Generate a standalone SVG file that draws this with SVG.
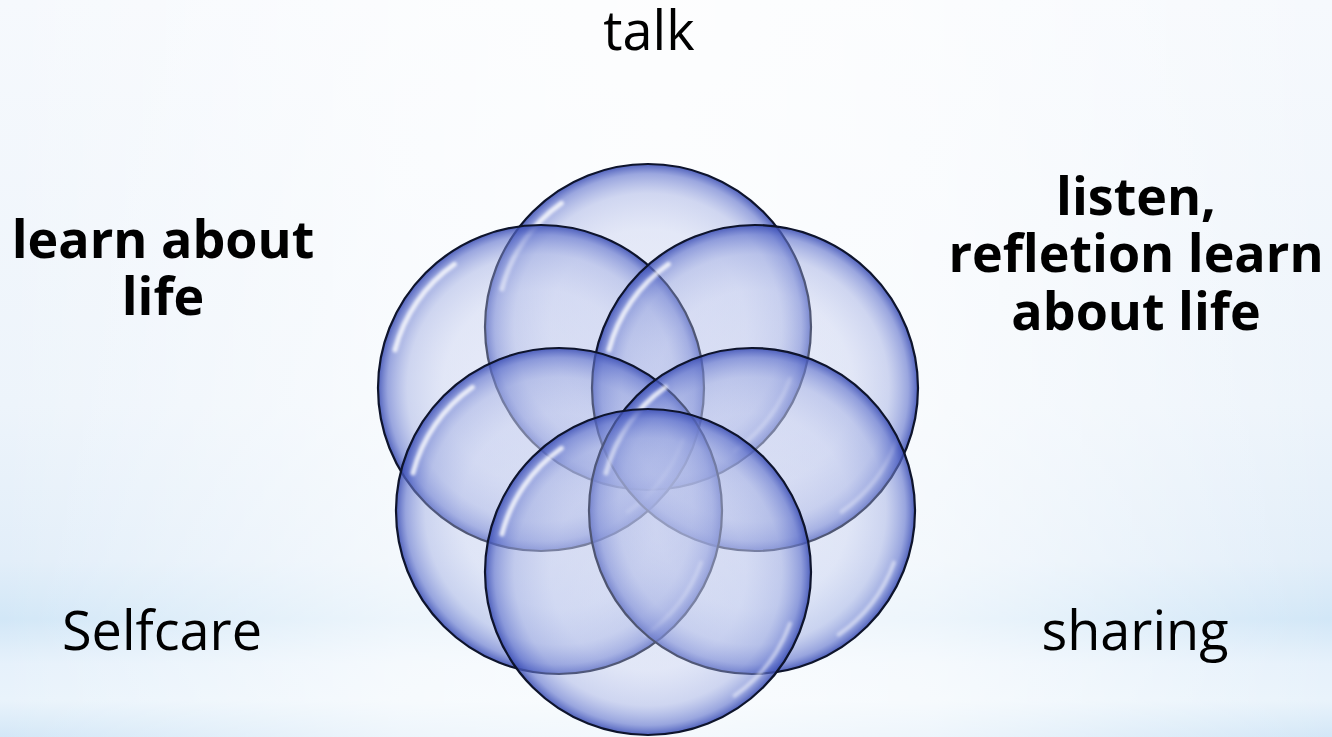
<svg xmlns="http://www.w3.org/2000/svg" xmlns:xlink="http://www.w3.org/1999/xlink" width="1332" height="737" viewBox="0 0 1332 737">
  <defs>
    <linearGradient id="bgV" x1="0" y1="0" x2="0" y2="1">
      <stop offset="0" stop-color="#f6f9fd"/>
      <stop offset="0.55" stop-color="#edf4fb"/>
      <stop offset="0.76" stop-color="#e2eef9"/>
      <stop offset="0.84" stop-color="#d2e7f7"/>
      <stop offset="0.9" stop-color="#e6f1fb"/>
      <stop offset="0.95" stop-color="#e9f3fb"/>
      <stop offset="1" stop-color="#d3e7f7"/>
    </linearGradient>
    <linearGradient id="bgH" x1="0" y1="0" x2="1" y2="0">
      <stop offset="0" stop-color="#ffffff" stop-opacity="0"/>
      <stop offset="0.3" stop-color="#ffffff" stop-opacity="0.6"/>
      <stop offset="0.5" stop-color="#ffffff" stop-opacity="0.75"/>
      <stop offset="0.7" stop-color="#ffffff" stop-opacity="0.6"/>
      <stop offset="1" stop-color="#ffffff" stop-opacity="0"/>
    </linearGradient>
    <radialGradient id="bub" cx="0.5" cy="0.5" r="0.5">
      <stop offset="0" stop-color="#c8cfee" stop-opacity="0.34"/>
      <stop offset="0.6" stop-color="#bcc5ec" stop-opacity="0.38"/>
      <stop offset="0.82" stop-color="#9aa7e0" stop-opacity="0.45"/>
      <stop offset="0.94" stop-color="#6072cc" stop-opacity="0.62"/>
      <stop offset="1" stop-color="#3a4db4" stop-opacity="0.88"/>
    </radialGradient>
    <filter id="soft" x="-20%" y="-20%" width="140%" height="140%">
      <feGaussianBlur stdDeviation="1.8"/>
    </filter>
    <g id="bubble">
      <circle cx="0" cy="0" r="163" fill="url(#bub)"/>
      <path d="M -146 -38 A 151 151 0 0 1 -86.6 -123.7" fill="none" stroke="#ffffff" stroke-width="5" stroke-linecap="round" stroke-opacity="0.8" filter="url(#soft)"/>
      <path d="M 141.9 51.6 A 151 151 0 0 1 86.6 123.7" fill="none" stroke="#ffffff" stroke-width="4" stroke-linecap="round" stroke-opacity="0.5" filter="url(#soft)"/>
      <circle cx="0" cy="0" r="163" fill="none" stroke="#0e142c" stroke-width="2.2"/>
    </g>
    <style>
      .lbl { font-family: "Open Sans", "Noto Sans", "DejaVu Sans", sans-serif; font-size: 54px; fill: #000000; text-anchor: middle; }
      .bold { font-weight: 700; font-size: 52px; }
    </style>
  </defs>

  <rect x="0" y="0" width="1332" height="737" fill="url(#bgV)"/>
  <rect x="0" y="0" width="1332" height="737" fill="url(#bgH)"/>

  <g id="bubbles">
    <g id="bubble-top"><use xlink:href="#bubble" href="#bubble" x="648" y="327"/></g>
    <g id="bubble-upper-left"><use xlink:href="#bubble" href="#bubble" x="541" y="388"/></g>
    <g id="bubble-upper-right"><use xlink:href="#bubble" href="#bubble" x="755" y="388"/></g>
    <g id="bubble-lower-left"><use xlink:href="#bubble" href="#bubble" x="559" y="511"/></g>
    <g id="bubble-lower-right"><use xlink:href="#bubble" href="#bubble" x="752" y="511"/></g>
    <g id="bubble-bottom"><use xlink:href="#bubble" href="#bubble" x="648" y="572"/></g>
  </g>

  <g id="label-talk"><text class="lbl" x="649" y="50">talk</text></g>
  <g id="label-learn">
    <text class="lbl bold" x="163" y="258">learn about</text>
    <text class="lbl bold" x="163" y="315">life</text>
  </g>
  <g id="label-listen">
    <text class="lbl bold" x="1136" y="215">listen,</text>
    <text class="lbl bold" x="1136" y="272">refletion learn</text>
    <text class="lbl bold" x="1136" y="330">about life</text>
  </g>
  <g id="label-selfcare"><text class="lbl" x="162" y="650">Selfcare</text></g>
  <g id="label-sharing"><text class="lbl" x="1135" y="650">sharing</text></g>
</svg>
